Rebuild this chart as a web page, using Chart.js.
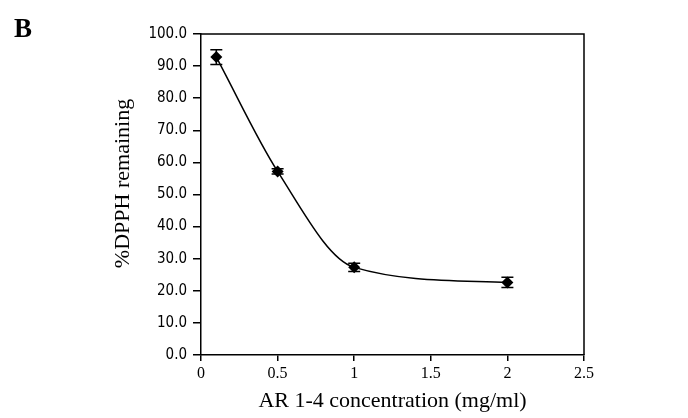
<!DOCTYPE html>
<html>
<head>
<meta charset="utf-8">
<script src="https://cdn.jsdelivr.net/npm/chart.js@4"></script>
<style>
    html, body { margin: 0; padding: 0; background: #fff; }
    #wrap { position: relative; width: 688px; height: 418px; }
    #panel { position: absolute; left: 14px; top: 13px; font: bold 27px 'Liberation Serif', serif; }
</style>
</head>
<body>
<div id="wrap">
    <div id="panel">B</div>
    <canvas id="dpphChart" width="688" height="418"></canvas>
</div>
<script>
// -------------------------------------------------------------------------- Data
const concentrations = [0.1, 0.5, 1, 2]
const remaining = [92.8, 57.2, 27.3, 22.6]
const errors = [2.3, 0.8, 1.3, 1.6]
const xTicks = [0, 0.5, 1, 1.5, 2, 2.5]

const black = '#000'

// -------------------------------------------------------------------------- Plugins
const frame = {
    id: 'frame',
    afterDraw(chart) {
        const { ctx, chartArea: a } = chart
        ctx.save()
        ctx.strokeStyle = black
        ctx.lineWidth = 1.5
        ctx.beginPath()
        ctx.moveTo(a.left, a.top)
        ctx.lineTo(a.right, a.top)
        ctx.lineTo(a.right, a.bottom)
        ctx.stroke()
        ctx.restore()
    }
}

const errorBars = {
    id: 'errorBars',
    afterDatasetsDraw(chart) {
        const { ctx, scales: { x, y } } = chart
        ctx.save()
        ctx.strokeStyle = black
        ctx.lineWidth = 1.5
        concentrations.forEach((c, i) => {
            const px = x.getPixelForValue(c)
            const top = y.getPixelForValue(remaining[i] + errors[i])
            const bot = y.getPixelForValue(remaining[i] - errors[i])
            ctx.beginPath()
            ctx.moveTo(px, top)
            ctx.lineTo(px, bot)
            ctx.moveTo(px - 6, top)
            ctx.lineTo(px + 6, top)
            ctx.moveTo(px - 6, bot)
            ctx.lineTo(px + 6, bot)
            ctx.stroke()
        })
        ctx.restore()
    }
}

// -------------------------------------------------------------------------- Chart Config
const dataChart = {
    datasets: [{
        data: concentrations.map((c, i) => ({ x: c, y: remaining[i] })),
        showLine: true,
        cubicInterpolationMode: 'monotone',
        borderColor: black,
        borderWidth: 1.5,
        backgroundColor: black,
        pointStyle: 'rectRot',
        pointRadius: 6,
        pointBorderWidth: 0
    }]
}

const configChart = {
    type: 'scatter',
    data: dataChart,
    plugins: [frame, errorBars],
    options: {
        responsive: false,
        animation: false,
        layout: { padding: { left: 100, top: 34, right: 104, bottom: 0 } },
        plugins: { legend: { display: false }, tooltip: { enabled: false } },
        scales: {
            x: {
                type: 'linear',
                min: 0,
                max: 2.5,
                afterBuildTicks: axis => { axis.ticks = xTicks.map(v => ({ value: v })) },
                afterFit: axis => { axis.height = 63 },
                border: { color: black, width: 1.5 },
                grid: { drawOnChartArea: false, color: black, tickLength: 6, lineWidth: 1.5 },
                ticks: {
                    color: black,
                    padding: 3,
                    callback: v => String(v),
                    font: { family: 'Liberation Serif', size: 16 }
                },
                title: {
                    display: true,
                    text: 'AR 1-4 concentration (mg/ml)',
                    color: black,
                    padding: { top: 0, bottom: 4 },
                    font: { family: 'Liberation Serif', size: 22 }
                }
            },
            y: {
                min: 0,
                max: 100,
                afterFit: axis => { axis.width = 101 },
                border: { color: black, width: 1.5 },
                grid: { drawOnChartArea: false, color: black, tickLength: 8, lineWidth: 1.5 },
                ticks: {
                    stepSize: 10,
                    color: black,
                    padding: 6,
                    callback: v => v.toFixed(1),
                    font: { family: "'DejaVu Sans Condensed', 'DejaVu Sans'", size: 15 }
                },
                title: {
                    display: true,
                    text: '\u00a0\u00a0\u00a0\u00a0%DPPH remaining',
                    color: black,
                    padding: { top: 10, bottom: 0 },
                    font: { family: 'Liberation Serif', size: 22 }
                }
            }
        }
    }
}

// -------------------------------------------------------------------------- Render
let dpphChart = new Chart(
    document.getElementById('dpphChart'),
    configChart
)
</script>
</body>
</html>
